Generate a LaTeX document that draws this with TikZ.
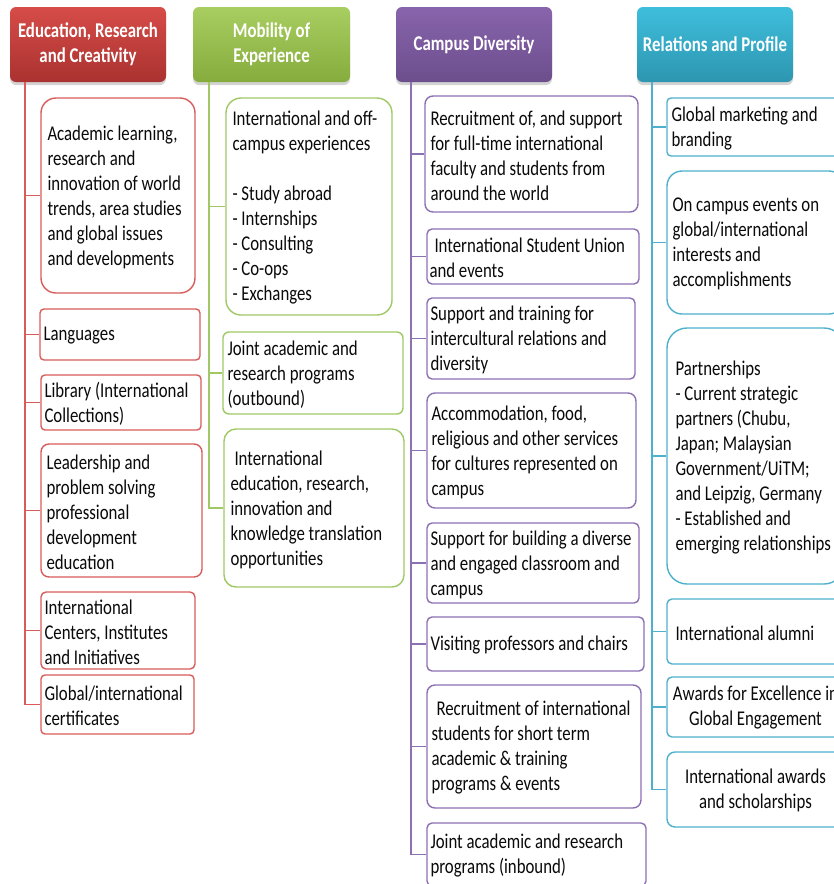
\documentclass[tikz,border=0pt]{standalone}
\usepackage{fontspec}
\setmainfont{Carlito}[FakeStretch=0.8]
\usetikzlibrary{shadows}
\definecolor{rtop}{RGB}{214,76,72}
\definecolor{rbot}{RGB}{170,50,48}
\definecolor{gtop}{RGB}{168,205,96}
\definecolor{gbot}{RGB}{135,172,62}
\definecolor{ptop}{RGB}{136,100,172}
\definecolor{pbot}{RGB}{108,78,140}
\definecolor{ctop}{RGB}{62,190,220}
\definecolor{cbot}{RGB}{45,150,176}
\definecolor{rline}{RGB}{216,92,90}
\definecolor{gline}{RGB}{160,200,100}
\definecolor{pline}{RGB}{140,112,180}
\definecolor{cline}{RGB}{78,176,205}
\definecolor{ink}{RGB}{10,10,10}
\newcommand\bx[7]{\node[box,#2,rounded corners=#7pt,minimum width={#5pt-#3pt},minimum height={#6pt-#4pt}] (#1) at ({(#3+#5)/2},{(#4+#6)/2}) {};}
\begin{document}
\begin{tikzpicture}[x=1pt,y=-1pt,
  hdr/.style={rounded corners=6pt, minimum width=156pt, minimum height=75pt, text=white,
    font=\bfseries\fontsize{21}{25}\selectfont, align=center, inner sep=0pt,
    drop shadow={shadow xshift=0pt, shadow yshift=-3pt, opacity=0.35}},
  box/.style={draw, line width=1.4pt, fill=white, inner sep=0pt},
  rb/.style={draw=rline}, gb/.style={draw=gline}, pb/.style={draw=pline}, cb/.style={draw=cline},
  txt/.style={anchor=west, align=left, inner sep=0pt, yshift=-1.5pt, font=\fontsize{21}{25}\selectfont, text=ink},
  ctxt/.style={align=center, inner sep=0pt, yshift=-1pt, font=\fontsize{21}{25}\selectfont, text=ink},
  conn/.style={line width=1.4pt}]
\useasboundingbox (0,0) rectangle (834,884);
\clip (0,0) rectangle (834,884);

% headers
\node[hdr, top color=rtop, bottom color=rbot] (h1) at (88,44.5) {Education, Research\\and Creativity};
\node[hdr, top color=gtop, bottom color=gbot, minimum width=157pt] (h2) at (271.5,44.5) {Mobility of\\Experience};
\node[hdr, top color=ptop, bottom color=pbot] (h3) at (474,44.5) {Campus Diversity};
\node[hdr, top color=ctop, bottom color=cbot] (h4) at (715,44.5) {Relations and Profile};

% red column
\bx{r1}{rb}{41}{98}{195}{293}{15}
\bx{r2}{rb}{40}{309}{200}{360}{4}
\bx{r3}{rb}{41}{375}{201}{430}{4}
\bx{r4}{rb}{41}{444}{202}{577}{8}
\bx{r5}{rb}{41}{592}{195}{669}{5}
\bx{r6}{rb}{41}{675}{194}{734}{4}
\node[txt] (r1t) at ([xshift=7pt]r1.west) {Academic learning,\\research and\\innovation of world\\trends, area studies\\and global issues\\and developments};
\node[txt] (r2t) at ([xshift=4pt]r2.west) {Languages};
\node[txt] (r3t) at ([xshift=4pt]r3.west) {Library (International\\Collections)};
\node[txt] (r4t) at ([xshift=6pt]r4.west) {Leadership and\\problem solving\\professional\\development\\education};
\node[txt] (r5t) at ([xshift=4pt]r5.west) {International\\Centers, Institutes\\and Initiatives};
\node[txt] (r6t) at ([xshift=4pt]r6.west) {Global/international\\certificates};
\foreach \b in {r1,r2,r3,r4,r5,r6}
  \draw[conn, rline] ([xshift=15pt]h1.south west) |- (\b.west);

% green column
\bx{g1}{gb}{226}{98}{392}{315}{15}
\bx{g2}{gb}{223}{332}{403}{414}{6}
\bx{g3}{gb}{224}{429}{404}{587}{12}
\node[txt] (g1t) at ([xshift=7pt]g1.west) {International and off-\\campus experiences\\[25pt]- Study abroad\\- Internships\\- Consulting\\- Co-ops\\- Exchanges};
\node[txt] (g2t) at ([xshift=5pt]g2.west) {Joint academic and\\research programs\\(outbound)};
\node[txt] (g3t) at ([xshift=7pt]g3.west) {\hspace{4pt}International\\education, research,\\innovation and\\knowledge translation\\opportunities};
\foreach \b in {g1,g2,g3}
  \draw[conn, gline] ([xshift=16pt]h2.south west) |- (\b.west);

% purple column
\bx{p1}{pb}{425}{96}{638}{212}{8}
\bx{p2}{pb}{427}{229}{639}{284}{5}
\bx{p3}{pb}{427}{298}{635}{379}{5}
\bx{p4}{pb}{427}{393}{636}{508}{8}
\bx{p5}{pb}{427}{523}{639}{603}{5}
\bx{p6}{pb}{427}{617}{644}{671}{5}
\bx{p7}{pb}{427}{685}{641}{808}{8}
\bx{p8}{pb}{427}{823}{646}{886}{5}
\node[txt] (p1t) at ([xshift=6pt]p1.west) {Recruitment of, and support\\for full-time international\\faculty and students from\\around the world};
\node[txt] (p2t) at ([xshift=3pt]p2.west) {\hspace{5pt}International Student Union\\and events};
\node[txt] (p3t) at ([xshift=4pt]p3.west) {Support and training for\\intercultural relations and\\diversity};
\node[txt] (p4t) at ([xshift=5pt]p4.west) {Accommodation, food,\\religious and other services\\for cultures represented on\\campus};
\node[txt] (p5t) at ([xshift=4pt]p5.west) {Support for building a diverse\\and engaged classroom and\\campus};
\node[txt] (p6t) at ([xshift=4pt]p6.west) {Visiting professors and chairs};
\node[txt] (p7t) at ([xshift=5pt]p7.west) {\hspace{5pt}Recruitment of international\\students for short term\\academic \& training\\programs \& events};
\node[txt] (p8t) at ([xshift=4pt]p8.west) {Joint academic and research\\programs (inbound)};
\foreach \b in {p1,p2,p3,p4,p5,p6,p7,p8}
  \draw[conn, pline] ([xshift=15pt]h3.south west) |- (\b.west);

% cyan column
\bx{c1}{cb}{667}{98}{844}{156}{4}
\bx{c2}{cb}{667}{171}{844}{314}{15}
\bx{c3}{cb}{667}{328}{844}{584}{20}
\bx{c4}{cb}{667}{599}{844}{664}{5}
\bx{c5}{cb}{667}{677}{844}{737}{5}
\bx{c6}{cb}{667}{752}{844}{827}{8}
\node[txt] (c1t) at ([xshift=5pt]c1.west) {Global marketing and\\branding};
\node[txt] (c2t) at ([xshift=6pt]c2.west) {On campus events on\\global/international\\interests and\\accomplishments};
\node[txt] (c3t) at ([xshift=9pt]c3.west) {Partnerships\\- Current strategic\\partners (Chubu,\\Japan; Malaysian\\Government/UiTM;\\and Leipzig, Germany\\- Established and\\emerging relationships};
\node[txt] (c4t) at ([xshift=9pt]c4.west) {International alumni};
\node[ctxt] (c5t) at (c5.center) {Awards for Excellence in\\Global Engagement};
\node[ctxt] (c6t) at (c6.center) {International awards\\and scholarships};
\foreach \b in {c1,c2,c3,c4,c5,c6}
  \draw[conn, cline] ([xshift=15pt]h4.south west) |- (\b.west);
\end{tikzpicture}
\end{document}
